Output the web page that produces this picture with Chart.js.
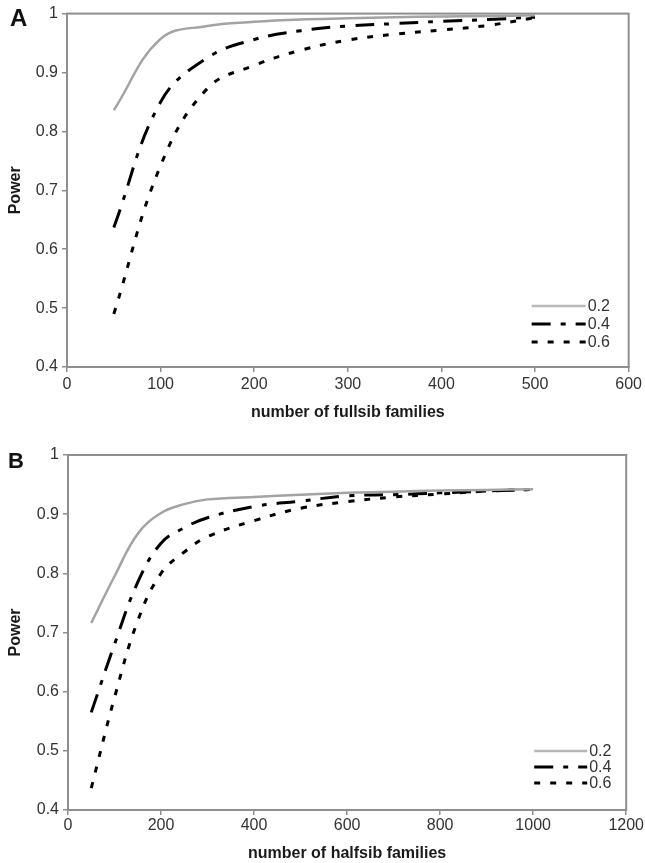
<!DOCTYPE html>
<html>
<head>
<meta charset="utf-8">
<script src="https://cdn.jsdelivr.net/npm/chart.js@4"></script>
<style>
  body { margin: 0; background: #fff; }
  #page { position: relative; width: 645px; height: 863px; }
  canvas { position: absolute; left: 0; }
  .panel-tag { position: absolute; font-family: 'Liberation Sans', Arial, sans-serif; font-weight: bold; color: #111; line-height: 1; }
</style>
</head>
<body>
<div id="page">
  <canvas id="fullsibChart" width="645" height="440" style="top:0"></canvas>
  <canvas id="halfsibChart" width="645" height="423" style="top:440px"></canvas>
  <div class="panel-tag" style="left:10px;top:6px;font-size:24px">A</div>
  <div class="panel-tag" style="left:8px;top:450px;font-size:22px">B</div>
</div>
<script>
// panel A - fullsib families
const fullsibFamilies = [50, 100, 150, 200, 250, 300, 350, 400, 450, 500];
const fullsibPower02 = [0.836, 0.957, 0.979, 0.986, 0.990, 0.992, 0.994, 0.995, 0.996, 0.997];
const fullsibPower04 = [0.637, 0.850, 0.925, 0.956, 0.971, 0.979, 0.983, 0.987, 0.990, 0.994];
const fullsibPower06 = [0.490, 0.742, 0.873, 0.912, 0.938, 0.955, 0.965, 0.972, 0.980, 0.993];

// panel B - halfsib families
const halfsibFamilies = [50, 100, 150, 200, 250, 300, 400, 500, 600, 700, 800, 900, 1000];
const halfsibPower02 = [0.716, 0.795, 0.867, 0.902, 0.917, 0.925, 0.929, 0.933, 0.936, 0.938, 0.940, 0.941, 0.942];
const halfsibPower04 = [0.565, 0.680, 0.785, 0.851, 0.877, 0.894, 0.913, 0.922, 0.931, 0.933, 0.936, 0.939, 0.942];
const halfsibPower06 = [0.437, 0.590, 0.720, 0.800, 0.836, 0.862, 0.889, 0.910, 0.921, 0.929, 0.934, 0.939, 0.942];

const seriesNames = ['0.2', '0.4', '0.6'];
const fullsibTicks = [0, 100, 200, 300, 400, 500, 600];
const halfsibTicks = [0, 200, 400, 600, 800, 1000, 1200];
const powerTicks = [0.4, 0.5, 0.6, 0.7, 0.8, 0.9, 1];

const FONT = "'Liberation Sans', Arial, sans-serif";
const axisGray = '#8e8e8e';

const lineStyles = [
  { borderColor: '#a3a3a3', borderWidth: 2.5, borderDash: [] },
  { borderColor: '#000', borderWidth: 3, borderDash: [19, 10, 5, 10] },
  { borderColor: '#000', borderWidth: 3, borderDash: [6, 10] }
];

// box around the plot area, like the excel plot frame
const plotFrame = {
  id: 'plotFrame',
  beforeDatasetsDraw(chart) {
    const { ctx, chartArea: a } = chart;
    ctx.save();
    ctx.strokeStyle = axisGray;
    ctx.lineWidth = 2;
    ctx.strokeRect(a.left, a.top, a.right - a.left, a.bottom - a.top);
    ctx.restore();
  }
};

// legend sitting inside the plot, bottom right
const cornerLegend = {
  id: 'cornerLegend',
  afterDatasetsDraw(chart, args, opts) {
    const { ctx, chartArea: a } = chart;
    ctx.save();
    ctx.font = '16px ' + FONT;
    ctx.textBaseline = 'middle';
    chart.data.datasets.forEach((ds, i) => {
      const y = a.bottom - opts.rows[i];
      const x0 = a.right - opts.lineFrom;
      const x1 = a.right - opts.lineTo;
      ctx.beginPath();
      ctx.setLineDash(ds.borderDash || []);
      ctx.strokeStyle = i === 0 ? '#b8b8b8' : ds.borderColor;
      ctx.lineWidth = ds.borderWidth;
      ctx.moveTo(x0, y);
      ctx.lineTo(x1, y);
      ctx.stroke();
      ctx.setLineDash([]);
      ctx.fillStyle = '#333';
      ctx.fillText(ds.label, x1 + 2, y + 1);
    });
    ctx.restore();
  }
};

function makeDatasets(xs, seriesList) {
  return seriesList.map((ys, i) => ({
    label: seriesNames[i],
    data: xs.map((x, j) => ({ x: x, y: ys[j] })),
    borderColor: lineStyles[i].borderColor,
    borderWidth: lineStyles[i].borderWidth,
    borderDash: lineStyles[i].borderDash,
    borderCapStyle: 'butt',
    pointRadius: 0,
    tension: 0.4,
    fill: false
  }));
}

function makeChart(canvasId, xs, seriesList, xTicks, xTitle, layout) {
  return new Chart(document.getElementById(canvasId), {
    type: 'line',
    data: { datasets: makeDatasets(xs, seriesList) },
    plugins: [plotFrame, cornerLegend],
    options: {
      responsive: false,
      animation: false,
      layout: { padding: { top: layout.top, right: layout.right, left: 0, bottom: 0 } },
      plugins: {
        legend: { display: false },
        tooltip: { enabled: false },
        cornerLegend: { rows: layout.legendRows, lineFrom: layout.legendFrom, lineTo: layout.legendTo }
      },
      scales: {
        x: {
          type: 'linear',
          min: xTicks[0],
          max: xTicks[xTicks.length - 1],
          afterBuildTicks: scale => { scale.ticks = xTicks.map(v => ({ value: v })); },
          afterFit: scale => { scale.height = layout.xHeight; },
          border: { display: true, color: axisGray, width: 2 },
          grid: { drawOnChartArea: false, drawTicks: true, tickLength: 5, color: axisGray, lineWidth: 1.5 },
          ticks: {
            padding: layout.xTickPad,
            color: '#333',
            maxRotation: 0,
            font: { family: FONT, size: 16 },
            callback: v => String(v)
          },
          title: {
            display: true,
            text: xTitle,
            color: '#1a1a1a',
            font: { family: FONT, size: 16, weight: 'bold' },
            padding: { top: 0, bottom: layout.xTitlePad }
          }
        },
        y: {
          type: 'linear',
          min: powerTicks[0],
          max: powerTicks[powerTicks.length - 1],
          afterBuildTicks: scale => { scale.ticks = powerTicks.map(v => ({ value: v })); },
          afterFit: scale => { scale.width = layout.yWidth; },
          border: { display: true, color: axisGray, width: 2 },
          grid: { drawOnChartArea: false, drawTicks: true, tickLength: 5, color: axisGray, lineWidth: 1.5 },
          ticks: {
            padding: 4,
            color: '#333',
            font: { family: FONT, size: 16 },
            callback: v => String(v)
          },
          title: {
            display: true,
            text: 'Power',
            color: '#1a1a1a',
            font: { family: FONT, size: 16, weight: 'bold' },
            padding: { top: 6, bottom: 0 }
          }
        }
      }
    }
  });
}

makeChart('fullsibChart', fullsibFamilies,
  [fullsibPower02, fullsibPower04, fullsibPower06],
  fullsibTicks, 'number of fullsib families',
  { top: 13, right: 14, yWidth: 67, xHeight: 73, xTickPad: 3, xTitlePad: 18,
    legendRows: [61, 43, 25], legendFrom: 97, legendTo: 43 });

makeChart('halfsibChart', halfsibFamilies,
  [halfsibPower02, halfsibPower04, halfsibPower06],
  halfsibTicks, 'number of halfsib families',
  { top: 15, right: 18, yWidth: 68, xHeight: 53, xTickPad: 1, xTitlePad: 0,
    legendRows: [59, 43, 27], legendFrom: 92, legendTo: 39 });
</script>
</body>
</html>
